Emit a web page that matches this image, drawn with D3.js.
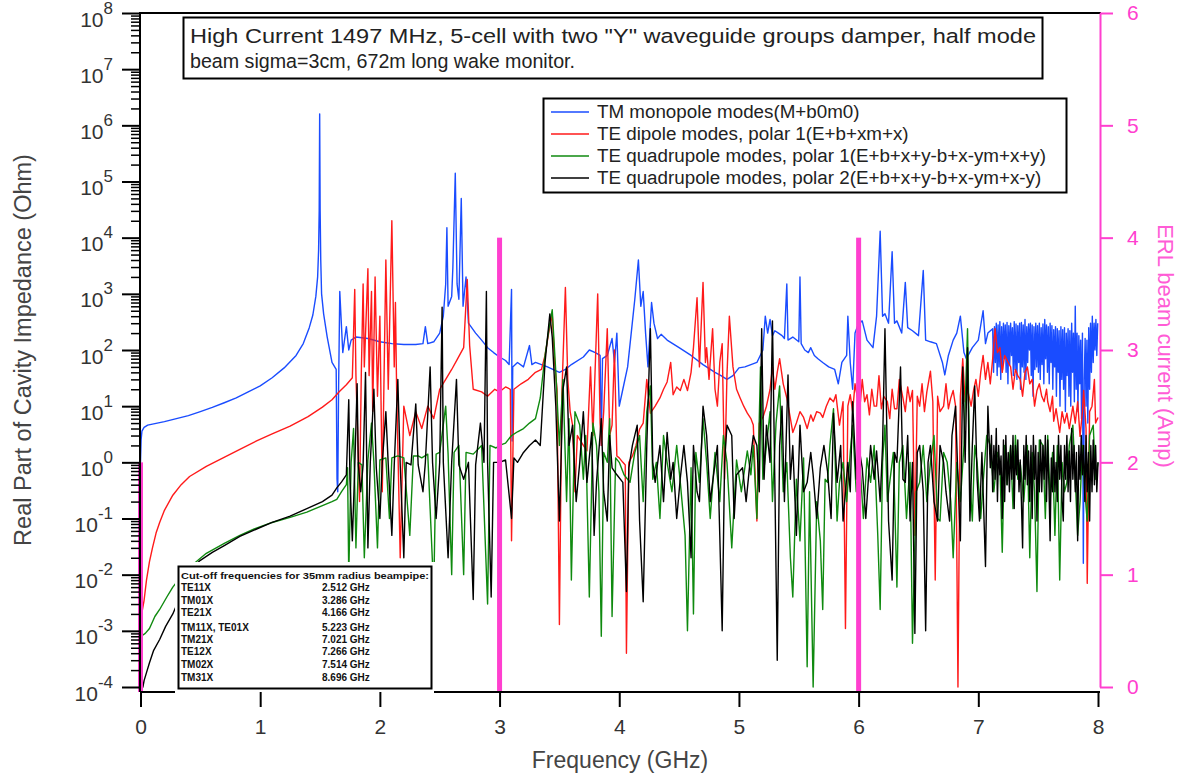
<!DOCTYPE html>
<html><head><meta charset="utf-8">
<script src="https://cdn.jsdelivr.net/npm/d3@7"></script>
<style>
html,body{margin:0;padding:0;background:#fff;}
svg{display:block;font-family:"Liberation Sans",Arial,Helvetica,sans-serif;}
</style></head><body>
<svg id="chart" width="1180" height="776"></svg>
<script>
// ---------- DATA (frequency GHz, real impedance Ohm) ----------
const tmMonopole = [[0.0,1.0],[0.005,2.5],[0.012,3.6],[0.03,4.2],[0.06,4.6],[0.1,4.8],[0.2,5.3],[0.3,6.0],[0.4,6.8],[0.5,8.0],[0.6,9.5],[0.7,11.5],[0.8,14],[0.9,18],[1.0,23],[1.1,32],[1.2,48],[1.3,80],[1.36,130],[1.41,250],[1.44,420],[1.465,900],[1.48,2000],[1.488,6000],[1.493,3e4],[1.497,1.6e6],[1.501,3e4],[1.506,4000],[1.513,1000],[1.53,440],[1.56,170],[1.6,60],[1.635,45],[1.642,0.5],[1.648,0.3],[1.655,20],[1.665,1100],[1.69,90],[1.72,260],[1.74,100],[1.76,150],[1.8,170],[1.9,160],[2.0,140],[2.1,130],[2.2,125],[2.3,125],[2.36,130],[2.38,260],[2.4,130],[2.45,140],[2.5,200],[2.53,400],[2.55,1500],[2.56,1.5e4],[2.57,600],[2.6,900],[2.61,3000],[2.63,1.4e5],[2.645,1500],[2.66,800],[2.68,5e4],[2.695,600],[2.72,2000],[2.74,300],[2.8,200],[2.85,150],[2.9,110],[2.95,90],[3.0,75],[3.05,65],[3.08,55],[3.1,1200],[3.105,2.4],[3.11,50],[3.15,60],[3.2,50],[3.25,120],[3.27,55],[3.3,60],[3.35,55],[3.4,50],[3.5,40],[3.55,45],[3.6,55],[3.7,75],[3.75,100],[3.8,90],[3.84,80],[3.85,2],[3.86,70],[3.9,80],[3.94,160],[3.96,60],[3.98,200],[4.0,10],[4.03,20],[4.07,50],[4.1,200],[4.13,800],[4.16,4000],[4.18,600],[4.2,1100],[4.22,200],[4.24,50],[4.27,700],[4.29,300],[4.32,160],[4.35,190],[4.4,150],[4.5,110],[4.6,80],[4.7,55],[4.8,40],[4.85,35],[4.9,30],[4.95,35],[5.0,48],[5.05,50],[5.1,55],[5.15,60],[5.2,100],[5.22,400],[5.24,200],[5.26,350],[5.28,180],[5.3,220],[5.33,200],[5.36,180],[5.38,160],[5.4,1500],[5.41,150],[5.45,170],[5.5,140],[5.51,2000],[5.52,130],[5.55,100],[5.58,90],[5.6,110],[5.63,80],[5.66,70],[5.7,60],[5.75,50],[5.8,45],[5.83,25],[5.86,60],[5.9,80],[5.91,400],[5.93,60],[5.95,20],[5.97,200],[6.0,300],[6.03,330],[6.07,150],[6.12,110],[6.15,400],[6.18,1.3e4],[6.2,400],[6.22,440],[6.25,300],[6.28,5600],[6.3,300],[6.32,330],[6.36,200],[6.39,1600],[6.41,250],[6.45,220],[6.5,180],[6.54,2600],[6.56,150],[6.6,140],[6.65,130],[6.7,60],[6.72,36],[6.75,80],[6.79,150],[6.82,200],[6.85,400],[6.88,90],[6.9,70],[6.95,110],[7.0,150],[7.04,500],[7.06,130],[7.08,200],[7.12,240],[7.1275,40],[7.135,260],[7.1425,60],[7.15,300],[7.1575,35],[7.165,280],[7.1725,50],[7.18,320],[7.1875,30],[7.195,260],[7.2025,45],[7.21,300],[7.2175,70],[7.225,280],[7.2325,40],[7.24,310],[7.2475,25],[7.255,270],[7.2625,55],[7.27,300],[7.2775,80],[7.285,250],[7.2925,35],[7.3,320],[7.3075,45],[7.315,290],[7.3225,30],[7.33,270],[7.3375,60],[7.345,300],[7.3525,20],[7.36,310],[7.3675,50],[7.375,280],[7.3825,40],[7.39,350],[7.3975,30],[7.405,260],[7.4125,60],[7.42,290],[7.4275,100],[7.435,300],[7.4425,35],[7.45,280],[7.4575,15],[7.465,260],[7.4725,45],[7.48,300],[7.4875,50],[7.495,270],[7.5025,40],[7.51,300],[7.5175,30],[7.525,250],[7.5325,55],[7.54,290],[7.5475,25],[7.555,350],[7.5625,70],[7.57,280],[7.5775,40],[7.585,260],[7.5925,25],[7.6,300],[7.6075,60],[7.615,270],[7.6225,20],[7.63,230],[7.6375,50],[7.645,260],[7.6525,15],[7.66,240],[7.6675,40],[7.675,220],[7.6825,10],[7.69,260],[7.6975,30],[7.705,230],[7.7125,20],[7.72,250],[7.7275,8],[7.735,200],[7.7425,35],[7.75,240],[7.7575,15],[7.765,220],[7.7725,10],[7.78,300],[7.7875,40],[7.795,200],[7.8025,12],[7.81,600],[7.8175,20],[7.825,200],[7.8325,8],[7.84,180],[7.8475,25],[7.855,150],[7.8625,6],[7.87,200],[7.8775,0.016],[7.885,30],[7.8925,160],[7.9,10],[7.9075,150],[7.915,5],[7.9225,250],[7.93,20],[7.9375,300],[7.945,40],[7.9525,400],[7.96,60],[7.9675,300],[7.975,100],[7.9825,350],[7.99,80],[7.9975,300]];

const teDipole = [[0.003,0.0015],[0.01,0.002],[0.03,0.0035],[0.05,0.008],[0.075,0.017],[0.1,0.03],[0.13,0.055],[0.16,0.085],[0.2,0.14],[0.27,0.26],[0.34,0.4],[0.41,0.56],[0.55,0.85],[0.69,1.2],[0.83,1.7],[0.97,2.4],[1.1,3.2],[1.25,4.4],[1.4,6.5],[1.52,9.6],[1.6,13],[1.66,18],[1.72,24],[1.77,32],[1.79,1200],[1.8,35],[1.83,0.2],[1.845,40],[1.86,1500],[1.87,50],[1.9,2800],[1.91,35],[1.93,1100],[1.94,8],[1.96,2000],[1.98,15],[2.0,400],[2.02,0.3],[2.05,4000],[2.07,20],[2.1,2e4],[2.12,50],[2.13,700],[2.14,20],[2.17,0.02],[2.2,10],[2.25,3],[2.3,8],[2.35,4],[2.4,10],[2.45,6],[2.5,20],[2.55,30],[2.6,45],[2.65,70],[2.7,110],[2.73,1800],[2.75,120],[2.78,20],[2.85,18],[2.9,15],[2.96,20],[3.0,18],[3.05,22],[3.09,20],[3.1,0.04],[3.12,20],[3.18,25],[3.24,30],[3.3,40],[3.35,45],[3.38,80],[3.41,200],[3.44,440],[3.46,60],[3.48,20],[3.5,0.0013],[3.52,15],[3.55,1300],[3.57,30],[3.59,8],[3.61,4.6],[3.63,0.3],[3.65,3],[3.7,2],[3.73,1.6],[3.76,50],[3.78,3],[3.82,1000],[3.84,5],[3.85,2],[3.87,8],[3.9,240],[3.92,3],[3.94,4.6],[3.96,100],[3.98,1.3],[4.0,1.2],[4.03,1.0],[4.05,0.9],[4.06,4e-4],[4.08,1.0],[4.11,1.3],[4.14,2],[4.17,3.9],[4.2,5],[4.23,30],[4.26,7.5],[4.3,10],[4.34,14],[4.37,20],[4.4,27],[4.43,60],[4.45,16],[4.48,22],[4.51,19],[4.54,30],[4.57,19],[4.6,40],[4.62,110],[4.65,850],[4.67,50],[4.7,1600],[4.72,60],[4.73,110],[4.75,30],[4.78,240],[4.8,20],[4.82,10],[4.84,60],[4.86,130],[4.88,0.5],[4.9,36],[4.92,400],[4.95,50],[4.98,20],[5.01,14],[5.04,10],[5.07,7.5],[5.1,6],[5.12,4.6],[5.15,0.09],[5.17,5],[5.2,6.3],[5.23,10],[5.26,20],[5.28,50],[5.3,20],[5.32,40],[5.34,70],[5.37,25],[5.4,14],[5.42,8],[5.45,3.4],[5.48,5],[5.51,8],[5.54,6.3],[5.57,4],[5.6,7],[5.62,5.4],[5.65,8],[5.68,7.5],[5.7,6.3],[5.73,10],[5.76,14],[5.79,12],[5.81,16],[5.84,4.6],[5.87,12],[5.89,0.0011],[5.91,10],[5.93,16],[5.95,8],[5.97,25],[5.99,14],[6.01,9],[6.03,30],[6.05,12],[6.07,16],[6.09,7],[6.11,20],[6.13,10],[6.15,10],[6.17,35],[6.19,9],[6.21,15],[6.24,12],[6.26,6],[6.28,20],[6.3,9],[6.32,9],[6.34,30],[6.37,14],[6.39,8],[6.41,22],[6.43,12],[6.45,19],[6.47,0.05],[6.49,15],[6.51,10],[6.53,25],[6.55,8],[6.57,18],[6.6,42],[6.62,12],[6.64,0.008],[6.66,15],[6.68,8],[6.71,10],[6.73,25],[6.75,9],[6.77,14],[6.79,19],[6.81,10],[6.83,1e-4],[6.85,15],[6.87,70],[6.89,12],[6.91,20],[6.94,10],[6.96,19],[6.98,30],[7.0,15],[7.02,40],[7.04,80],[7.06,30],[7.08,60],[7.1,25],[7.12,70],[7.14,240],[7.16,90],[7.18,110],[7.2,40],[7.22,80],[7.25,60],[7.27,50],[7.29,20],[7.31,45],[7.33,35],[7.35,30],[7.37,15],[7.39,40],[7.41,50],[7.43,25],[7.45,30],[7.47,10],[7.49,19],[7.51,25],[7.53,15],[7.55,12],[7.57,20],[7.58,12],[7.6,8],[7.62,15],[7.63,5.4],[7.65,9],[7.68,3.4],[7.7,8],[7.72,5],[7.74,7.5],[7.76,4],[7.79,10],[7.81,5],[7.83,12],[7.85,2.9],[7.87,8],[7.88,19],[7.9,4],[7.91,0.007],[7.93,8],[7.95,10],[7.97,30],[7.98,5],[8.0,6.3]];

const teQuadPolar1 = [[0.005,0.0008],[0.04,0.0009],[0.075,0.0011],[0.12,0.0018],[0.16,0.0024],[0.22,0.004],[0.27,0.006],[0.35,0.01],[0.45,0.016],[0.55,0.024],[0.7,0.036],[0.83,0.05],[0.95,0.065],[1.1,0.085],[1.25,0.105],[1.39,0.13],[1.52,0.17],[1.6,0.2],[1.64,0.22],[1.68,0.3],[1.72,0.4],[1.73,0.8],[1.74,0.01],[1.76,1.0],[1.78,4],[1.8,0.03],[1.82,1.0],[1.85,0.9],[1.87,0.02],[1.9,1.1],[1.93,5],[1.95,1.0],[1.98,0.03],[2.0,1.1],[2.05,1.2],[2.08,0.1],[2.1,1.2],[2.15,1.3],[2.2,1.2],[2.25,0.05],[2.28,1.3],[2.32,1.3],[2.35,1.2],[2.4,1.4],[2.45,0.005],[2.47,1.4],[2.5,1.5],[2.55,10],[2.57,1.4],[2.6,0.01],[2.62,1.5],[2.66,2],[2.7,0.01],[2.72,1.5],[2.78,1.4],[2.85,2],[2.9,0.003],[2.92,2],[2.97,1.8],[3.0,2],[3.05,2.2],[3.1,3],[3.15,3.5],[3.2,4],[3.25,5],[3.3,6],[3.34,14],[3.38,80],[3.42,300],[3.44,520],[3.47,40],[3.5,2],[3.53,30],[3.56,0.2],[3.58,6],[3.6,0.008],[3.63,8],[3.67,4.6],[3.7,0.5],[3.72,3],[3.75,0.004],[3.78,5],[3.81,2],[3.83,0.3],[3.85,0.0008],[3.87,1.5],[3.9,1],[3.92,6],[3.94,0.0018],[3.97,1.2],[4.0,1],[4.04,0.6],[4.09,0.44],[4.13,1.5],[4.17,3],[4.2,0.2],[4.23,8],[4.26,23],[4.28,0.5],[4.31,1],[4.34,0.1],[4.37,3],[4.4,1],[4.44,0.3],[4.48,2],[4.51,0.44],[4.55,0.05],[4.57,0.001],[4.6,0.8],[4.62,0.002],[4.64,1.5],[4.67,0.44],[4.7,6],[4.73,1],[4.76,0.1],[4.8,1.5],[4.84,0.2],[4.87,3],[4.9,1],[4.94,0.03],[4.98,1.1],[5.02,0.3],[5.07,1.6],[5.1,0.6],[5.12,2],[5.15,0.1],[5.18,50],[5.2,0.5],[5.23,2],[5.26,8],[5.28,0.2],[5.31,5],[5.34,23],[5.37,0.3],[5.4,1],[5.43,0.02],[5.45,0.004],[5.48,0.5],[5.51,0.04],[5.54,1.2],[5.57,2.3e-4],[5.59,0.3],[5.62,1e-4],[5.65,0.2],[5.68,0.04],[5.7,0.0024],[5.72,0.5],[5.74,0.44],[5.76,2],[5.79,9],[5.82,0.09],[5.84,0.44],[5.87,1],[5.9,0.2],[5.93,1.5],[5.95,4.6],[5.98,0.3],[6.01,1],[6.04,0.1],[6.07,1.2],[6.1,0.44],[6.13,2],[6.16,0.05],[6.18,0.0024],[6.2,1],[6.22,4.6],[6.24,0.2],[6.26,0.44],[6.29,1.5],[6.32,0.006],[6.34,1],[6.37,2],[6.4,0.1],[6.43,1],[6.45,6e-4],[6.48,0.3],[6.51,0.44],[6.54,2],[6.57,0.2],[6.6,1],[6.63,3],[6.66,0.1],[6.68,0.09],[6.71,1.5],[6.74,1],[6.77,0.2],[6.79,0.02],[6.82,1],[6.85,0.2],[6.88,2],[6.91,240],[6.93,0.5],[6.95,0.09],[6.97,2],[6.99,1],[7.02,0.1],[7.04,0.44],[7.07,3],[7.1,2],[7.13,0.3],[7.16,1.5],[7.18,1],[7.2,0.025],[7.22,2],[7.24,0.4],[7.27,2],[7.29,0.15],[7.31,3],[7.33,0.5],[7.35,1],[7.38,0.2],[7.41,2],[7.43,0.02],[7.45,1.5],[7.47,0.3],[7.49,0.005],[7.51,2.5],[7.54,2],[7.56,0.1],[7.58,3],[7.6,0.2],[7.62,1.5],[7.64,0.05],[7.66,2],[7.68,0.008],[7.7,1],[7.72,0.3],[7.74,0.44],[7.76,2],[7.79,4.6],[7.81,0.5],[7.83,0.05],[7.85,0.2],[7.87,2],[7.89,0.3],[7.91,0.09],[7.93,3],[7.96,4.6],[7.98,0.5],[8.0,1]];

const teQuadPolar2 = [[0.0,1e-4],[0.02,1e-4],[0.03,1.3e-4],[0.05,1.8e-4],[0.075,2.7e-4],[0.11,4.5e-4],[0.16,7e-4],[0.21,0.0012],[0.27,0.002],[0.33,0.004],[0.41,0.012],[0.5,0.018],[0.6,0.025],[0.7,0.033],[0.83,0.048],[0.97,0.065],[1.1,0.085],[1.25,0.11],[1.39,0.15],[1.52,0.2],[1.6,0.26],[1.64,0.35],[1.68,0.45],[1.72,0.6],[1.74,13],[1.75,0.5],[1.77,0.04],[1.79,0.8],[1.81,25],[1.82,0.9],[1.84,0.3],[1.86,0.9],[1.88,40],[1.9,0.03],[1.92,1.0],[1.95,20],[1.97,0.8],[2.0,0.1],[2.02,1.0],[2.05,8],[2.07,0.9],[2.1,0.05],[2.12,0.9],[2.15,30],[2.17,0.9],[2.2,0.02],[2.22,1.0],[2.26,0.9],[2.3,11],[2.32,0.9],[2.36,0.3],[2.38,1.0],[2.42,50],[2.44,1.0],[2.47,0.1],[2.5,1.0],[2.52,580],[2.53,1.0],[2.57,0.02],[2.6,1.0],[2.64,30],[2.66,0.9],[2.7,0.5],[2.74,1.0],[2.78,0.0036],[2.8,0.9],[2.84,5],[2.87,1.0],[2.89,1100],[2.9,1.0],[2.93,0.004],[2.95,1.0],[3.0,1.0],[3.05,1.1],[3.1,0.1],[3.12,1.2],[3.15,1.0],[3.2,1.5],[3.25,2],[3.3,2.5],[3.34,2],[3.38,60],[3.42,440],[3.44,170],[3.47,10],[3.5,0.09],[3.53,20],[3.56,50],[3.58,2],[3.61,4.6],[3.64,0.2],[3.67,1],[3.7,8],[3.73,0.44],[3.77,3.4],[3.79,0.05],[3.81,0.44],[3.85,6],[3.87,0.3],[3.9,0.09],[3.92,3],[3.94,0.8],[3.98,0.6],[4.03,0.44],[4.06,0.005],[4.08,0.8],[4.11,2],[4.15,4.6],[4.17,0.09],[4.2,0.0033],[4.23,2],[4.26,240],[4.28,1],[4.3,0.44],[4.34,2],[4.37,0.2],[4.4,3.4],[4.43,0.5],[4.45,1],[4.48,0.1],[4.51,0.52],[4.54,2],[4.57,0.44],[4.6,0.02],[4.62,2],[4.65,0.3],[4.67,0.2],[4.7,10],[4.73,3],[4.76,0.2],[4.78,0.44],[4.82,2],[4.84,0.05],[4.86,0.001],[4.88,1],[4.9,4.6],[4.94,3],[4.96,0.1],[4.98,0.6],[5.03,0.8],[5.06,0.2],[5.09,0.9],[5.12,3],[5.15,2],[5.17,0.3],[5.19,240],[5.21,0.5],[5.23,4.6],[5.26,1],[5.28,330],[5.3,0.44],[5.32,3e-4],[5.34,2],[5.36,10],[5.38,0.2],[5.41,36],[5.43,0.5],[5.45,2],[5.48,0.05],[5.51,4.6],[5.54,0.3],[5.57,0.44],[5.6,1.5],[5.62,0.6],[5.65,0.1],[5.68,0.8],[5.71,2],[5.74,0.7],[5.77,0.1],[5.79,7.5],[5.82,0.44],[5.85,2],[5.87,0.09],[5.91,1],[5.93,0.3],[5.95,12],[5.98,0.5],[6.0,2],[6.03,0.8],[6.06,0.1],[6.1,2],[6.13,0.5],[6.15,1.6],[6.18,0.2],[6.2,2],[6.22,240],[6.25,0.09],[6.28,0.008],[6.3,1.5],[6.32,1],[6.35,50],[6.37,0.5],[6.39,0.44],[6.41,3],[6.43,0.09],[6.45,1],[6.47,9e-4],[6.49,1.5],[6.51,2],[6.54,0.3],[6.56,0.001],[6.58,1],[6.6,2],[6.63,0.2],[6.66,0.09],[6.68,2],[6.71,1],[6.73,0.3],[6.76,0.09],[6.78,3],[6.81,10],[6.83,0.5],[6.85,0.04],[6.87,50],[6.89,1],[6.91,110],[6.93,0.09],[6.95,2],[6.97,23],[6.99,0.5],[7.01,0.09],[7.03,1.5],[7.06,0.014],[7.08,10],[7.1,0.8],[7.11,3],[7.12,0.3],[7.13,2],[7.14,0.5],[7.15,4],[7.16,0.2],[7.17,2],[7.18,0.6],[7.19,1.3],[7.2,0.1],[7.21,2.5],[7.22,0.2],[7.23,3],[7.24,0.4],[7.25,1.5],[7.26,0.3],[7.27,2],[7.28,0.5],[7.29,3],[7.3,0.15],[7.31,2],[7.32,0.6],[7.33,2.5],[7.34,0.3],[7.35,1.1],[7.36,0.2],[7.37,0.03],[7.38,2],[7.39,0.5],[7.4,3],[7.41,0.4],[7.42,1.6],[7.43,0.2],[7.44,2],[7.45,0.1],[7.46,3],[7.47,0.5],[7.48,2],[7.49,0.09],[7.5,1.5],[7.51,0.3],[7.52,2.5],[7.53,0.3],[7.54,2],[7.55,0.5],[7.56,3],[7.57,0.2],[7.58,2.5],[7.59,0.4],[7.6,0.04],[7.61,1.2],[7.62,0.3],[7.63,2],[7.64,0.3],[7.65,1],[7.66,0.2],[7.67,3],[7.68,0.5],[7.69,2],[7.7,0.2],[7.71,0.09],[7.72,2],[7.73,0.5],[7.74,3],[7.75,0.3],[7.76,1.6],[7.77,0.2],[7.78,4],[7.79,0.5],[7.8,2],[7.81,0.3],[7.82,1.5],[7.83,0.04],[7.84,2],[7.85,0.5],[7.86,3],[7.87,0.6],[7.88,2],[7.89,0.2],[7.9,3],[7.91,0.3],[7.92,1.5],[7.93,0.09],[7.94,2],[7.95,0.3],[7.96,2.5],[7.97,0.4],[7.98,2],[7.99,0.3],[8.0,1]];

// ERL beam current spectral lines (GHz, Amp)
const beamFreq = [0, 3, 6];
const beamCurrent = [2, 4, 4];

// tick labels
const xTicks = [0, 1, 2, 3, 4, 5, 6, 7, 8];
const yExponents = [-4, -3, -2, -1, 0, 1, 2, 3, 4, 5, 6, 7, 8];
const rightTicks = [0, 1, 2, 3, 4, 5, 6];

// legend / annotations
const seriesNames = ["TM monopole modes(M+b0m0)", "TE dipole modes, polar 1(E+b+xm+x)", "TE quadrupole modes, polar 1(E+b+x+y-b+x-ym+x+y)", "TE quadrupole modes, polar 2(E+b+x+y-b+x-ym+x-y)"];
const seriesColors = ["#1a4cff", "#ff1a1a", "#0f8a0f", "#000000"];
const titleLines = ["High Current 1497 MHz, 5-cell with two \"Y\" waveguide groups damper, half mode", "beam sigma=3cm, 672m long wake monitor."];
const cutoffTitle = "Cut-off frequencies for 35mm radius beampipe:";
const cutoffModes = ["TE11X", "TM01X", "TE21X", "TM11X, TE01X", "TM21X", "TE12X", "TM02X", "TM31X"];
const cutoffFreqs = ["2.512 GHz", "3.286 GHz", "4.166 GHz", "5.223 GHz", "7.021 GHz", "7.266 GHz", "7.514 GHz", "8.696 GHz"];

// ---------- CHART ----------
const MAG = "#ff3fcf";
const svg = d3.select("#chart");
const x = d3.scaleLinear().domain([0, 8]).range([140.5, 1098]);
const y = d3.scaleLog().domain([1e-4, 1e8]).range([687, 13]);
const yR = d3.scaleLinear().domain([0, 6]).range([687, 13]);
const axisY = 692;

svg.append("defs").append("clipPath").attr("id", "clip")
  .append("rect").attr("x", 140).attr("y", 13).attr("width", 960).attr("height", 677);

const line = d3.line().x(d => x(d[0])).y(d => y(d[1]));
const allSeries = [tmMonopole, teDipole, teQuadPolar1, teQuadPolar2];
const gData = svg.append("g").attr("clip-path", "url(#clip)");
allSeries.forEach((s, i) => {
  const sorted = d3.sort(s, d => d[0]);
  gData.append("path").datum(sorted).attr("d", line)
    .attr("fill", "none").attr("stroke", seriesColors[i]).attr("stroke-width", 1.4)
    .attr("stroke-linejoin", "round");
});

// beam current bars
svg.append("g").selectAll("rect").data(beamFreq).join("rect")
  .attr("x", (d) => x(d) - 2.5).attr("width", 5)
  .attr("y", (d, i) => yR(beamCurrent[i]))
  .attr("height", (d, i) => axisY - yR(beamCurrent[i]))
  .attr("fill", MAG);

// cutoff table
const tb = svg.append("g");
tb.append("rect").attr("x", 175).attr("y", 562).attr("width", 261).attr("height", 134).attr("fill", "#fff");
tb.append("rect").attr("x", 178.5).attr("y", 566.5).attr("width", 253).attr("height", 122)
  .attr("fill", "none").attr("stroke", "#000").attr("stroke-width", 2);
tb.append("text").attr("x", 181).attr("y", 579).attr("font-size", 9.5).attr("font-weight", "bold")
  .attr("textLength", 248).attr("lengthAdjust", "spacingAndGlyphs").attr("fill", "#111").text(cutoffTitle);
const rowY = [591, 604, 616, 631, 643, 655, 668, 681];
cutoffModes.forEach((m, i) => {
  tb.append("text").attr("x", 181).attr("y", rowY[i]).attr("font-size", 10).attr("font-weight", "bold").attr("fill", "#111").text(m);
  tb.append("text").attr("x", 322).attr("y", rowY[i]).attr("font-size", 10).attr("font-weight", "bold").attr("fill", "#111").text(cutoffFreqs[i]);
});

// left axis
const majors = yExponents.map(e => Math.pow(10, e));
const minors = [];
yExponents.slice(0, -1).forEach(e => { for (let k = 2; k < 10; k++) minors.push(k * Math.pow(10, e)); });
const gMin = svg.append("g").attr("transform", "translate(140,0)")
  .call(d3.axisLeft(y).tickValues(minors).tickSize(9).tickSizeOuter(0).tickFormat(""));
gMin.select(".domain").remove();
gMin.selectAll(".tick line").attr("stroke", "#000").attr("stroke-width", 1.5);
const gMaj = svg.append("g").attr("transform", "translate(140,0)")
  .call(d3.axisLeft(y).tickValues(majors).tickSize(18).tickSizeOuter(0).tickPadding(9).tickFormat(""));
gMaj.select(".domain").remove();
gMaj.selectAll(".tick line").attr("stroke", "#000").attr("stroke-width", 2);
gMaj.selectAll(".tick text").each(function (d) {
  const e = Math.round(Math.log10(d));
  const t = d3.select(this);
  t.attr("dy", null).attr("y", 13).attr("font-size", 21).attr("fill", "#333")
    .attr("font-family", "'Liberation Sans', Arial, sans-serif").attr("text-anchor", "end");
  t.append("tspan").text("10");
  t.append("tspan").attr("dy", -13).attr("font-size", 17).text(String(e));
});
svg.append("line").attr("x1", 140).attr("x2", 140).attr("y1", 12).attr("y2", axisY)
  .attr("stroke", "#000").attr("stroke-width", 2);
// top frame
svg.append("line").attr("x1", 139).attr("x2", 1101).attr("y1", 13).attr("y2", 13)
  .attr("stroke", "#000").attr("stroke-width", 2);

// bottom axis
const gX = svg.append("g").attr("transform", `translate(0,${axisY})`)
  .call(d3.axisBottom(x).tickValues(xTicks).tickSize(15).tickSizeOuter(0).tickPadding(12).tickFormat(d3.format("d")));
gX.select(".domain").remove();
gX.selectAll(".tick line").attr("stroke", "#000").attr("stroke-width", 2);
gX.selectAll(".tick text").attr("font-size", 21).attr("fill", "#333")
  .attr("font-family", "'Liberation Sans', Arial, sans-serif");
[[140, 175], [434, 1100]].forEach(seg => {
  svg.append("line").attr("x1", seg[0]).attr("x2", seg[1]).attr("y1", axisY).attr("y2", axisY)
    .attr("stroke", "#000").attr("stroke-width", 2);
});

// right axis
const gR = svg.append("g").attr("transform", "translate(1100,0)")
  .call(d3.axisRight(yR).tickValues(rightTicks).tickSize(13).tickSizeOuter(0).tickPadding(14).tickFormat(d3.format("d")));
gR.select(".domain").attr("stroke", MAG).attr("stroke-width", 2);
gR.selectAll(".tick line").attr("stroke", MAG).attr("stroke-width", 2);
gR.selectAll(".tick text").attr("font-size", 21).attr("fill", MAG)
  .attr("font-family", "'Liberation Sans', Arial, sans-serif");

// axis titles
svg.append("text").attr("transform", "translate(31,350) rotate(-90)").attr("text-anchor", "middle")
  .attr("font-size", 23.5).attr("fill", "#444").text("Real Part of Cavity Impedance (Ohm)");
svg.append("text").attr("x", 620).attr("y", 768).attr("text-anchor", "middle")
  .attr("font-size", 23).attr("fill", "#444").text("Frequency (GHz)");
svg.append("text").attr("transform", "translate(1158,346) rotate(90)").attr("text-anchor", "middle")
  .attr("font-size", 22).attr("fill", "#ff5cd6").text("ERL beam current (Amp)");

// title box
const tg = svg.append("g");
tg.append("rect").attr("x", 183.5).attr("y", 17.5).attr("width", 859).attr("height", 61)
  .attr("fill", "#fff").attr("stroke", "#000").attr("stroke-width", 2);
tg.append("text").attr("x", 190).attr("y", 43).attr("font-size", 20.5).attr("fill", "#222")
  .attr("textLength", 846).attr("lengthAdjust", "spacingAndGlyphs").text(titleLines[0]);
tg.append("text").attr("x", 190).attr("y", 68).attr("font-size", 20.5).attr("fill", "#222")
  .attr("textLength", 385).attr("lengthAdjust", "spacingAndGlyphs").text(titleLines[1]);

// legend
const lg = svg.append("g");
lg.append("rect").attr("x", 543.5).attr("y", 98.5).attr("width", 523).attr("height", 94)
  .attr("fill", "#fff").attr("stroke", "#000").attr("stroke-width", 2);
const legY = [112, 134, 156, 178];
seriesNames.forEach((n, i) => {
  lg.append("line").attr("x1", 551).attr("x2", 589).attr("y1", legY[i]).attr("y2", legY[i])
    .attr("stroke", seriesColors[i]).attr("stroke-width", 1.6);
  lg.append("text").attr("x", 597).attr("y", legY[i] + 6).attr("font-size", 18.8).attr("fill", "#222").text(n);
});
</script>
</body></html>
